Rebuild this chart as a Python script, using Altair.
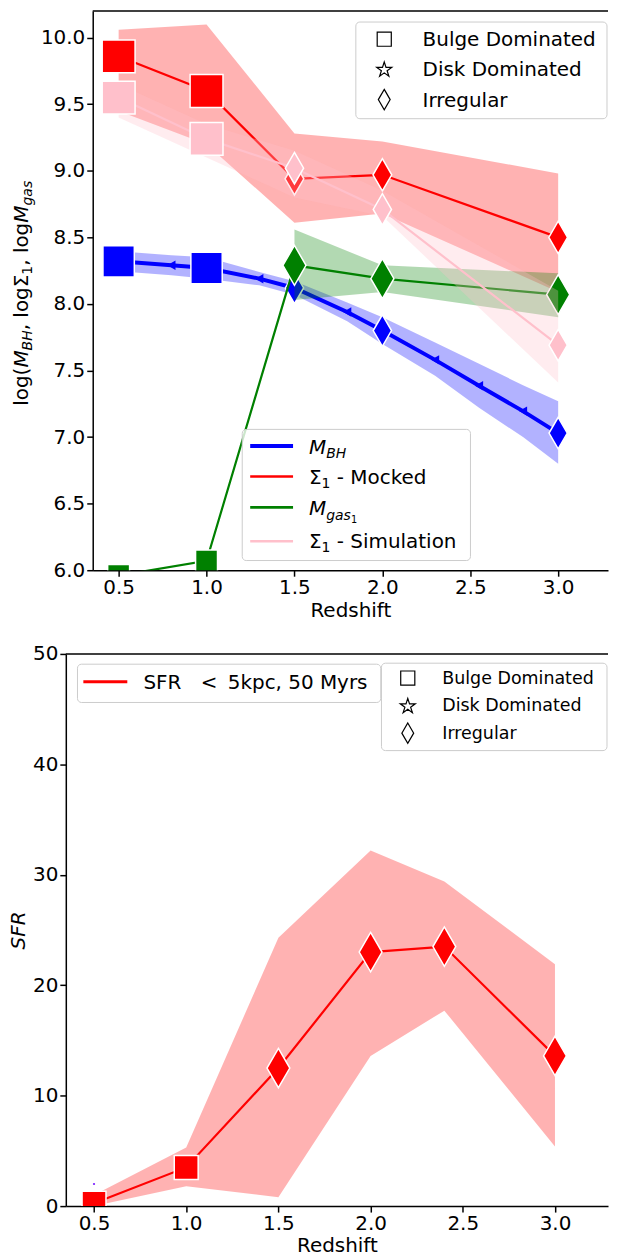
import altair as alt
import pandas as pd

FONT = "DejaVu Sans"

# ------------------------------------------------------------------ top panel data
morph_categories = ["Bulge Dominated", "Disk Dominated", "Irregular"]

z_morph = [0.5, 1.0, 1.5, 2.0, 3.0]
morph_top = ["Bulge Dominated", "Bulge Dominated", "Irregular", "Irregular", "Irregular"]

z_bh = [0.5, 0.8, 1.0, 1.3, 1.5, 1.8, 2.0, 2.3, 2.55, 2.8, 3.0]
log_mbh = [8.32, 8.29, 8.27, 8.19, 8.12, 7.94, 7.80, 7.58, 7.385, 7.195, 7.03]
log_mbh_lo = [8.245, 8.215, 8.19, 8.14, 8.07, 7.87, 7.70, 7.46, 7.22, 7.00, 6.80]
log_mbh_hi = [8.395, 8.365, 8.35, 8.24, 8.17, 8.01, 7.90, 7.71, 7.55, 7.39, 7.27]

sigma1_mocked = [9.86, 9.60, 8.94, 8.97, 8.50]
sigma1_mocked_lo = [9.45, 9.20, 8.61, 8.68, 8.09]
sigma1_mocked_hi = [10.06, 10.10, 9.28, 9.22, 8.98]

log_mgas = [5.96, 6.07, 8.29, 8.19, 8.07]
z_mgas_band = [1.5, 2.0, 3.0]
log_mgas_lo = [8.03, 8.09, 7.90]
log_mgas_hi = [8.56, 8.29, 8.23]

sigma1_sim = [9.55, 9.24, 9.02, 8.71, 7.69]
sigma1_sim_lo = [9.40, 9.10, 8.80, 8.66, 7.41]
sigma1_sim_hi = [9.65, 9.35, 9.15, 8.85, 8.10]

# ------------------------------------------------------------------ bottom panel data
z_sfr = [0.5, 1.0, 1.5, 2.0, 2.4, 3.0]
morph_sfr = ["Bulge Dominated", "Bulge Dominated", "Irregular", "Irregular", "Irregular", "Irregular"]
sfr = [0.25, 3.5, 12.5, 23.0, 23.5, 13.6]
sfr_lo = [0.0, 1.8, 0.8, 13.6, 17.7, 5.4]
sfr_hi = [1.0, 5.3, 24.3, 32.2, 29.4, 21.9]
z_stray = [0.5]
sfr_stray = [2.0]

x_ticks = [0.5, 1.0, 1.5, 2.0, 2.5, 3.0]
y_ticks_top = [6.0, 6.5, 7.0, 7.5, 8.0, 8.5, 9.0, 9.5, 10.0]
y_ticks_sfr = [0, 10, 20, 30, 40, 50]

# ------------------------------------------------------------------ frames
top_df = pd.DataFrame({
    "z": z_morph, "morph": morph_top,
    "mock": sigma1_mocked, "mock_lo": sigma1_mocked_lo, "mock_hi": sigma1_mocked_hi,
    "sim": sigma1_sim, "sim_lo": sigma1_sim_lo, "sim_hi": sigma1_sim_hi,
    "gas": log_mgas,
})
gas_band_df = pd.DataFrame({"z": z_mgas_band, "lo": log_mgas_lo, "hi": log_mgas_hi})
bh_df = pd.DataFrame({"z": z_bh, "v": log_mbh, "lo": log_mbh_lo, "hi": log_mbh_hi})
bh_df["morph"] = bh_df["z"].map(dict(zip(z_morph, morph_top))).fillna("none")
sfr_df = pd.DataFrame({"z": z_sfr, "morph": morph_sfr, "v": sfr, "lo": sfr_lo, "hi": sfr_hi})
stray_df = pd.DataFrame({"z": z_stray, "v": sfr_stray})
one = pd.DataFrame({"k": [0]})

DIAMOND = "M0,-1L0.58,0L0,1L-0.58,0Z"
STAR = ("M0,-1L0.2245,-0.309L0.9511,-0.309L0.3633,0.118L0.5878,0.809L0,0.382"
        "L-0.5878,0.809L-0.3633,0.118L-0.9511,-0.309L-0.2245,-0.309Z")
SHAPE = alt.Shape("morph:N", scale=alt.Scale(domain=morph_categories,
                                             range=["square", STAR, DIAMOND]), legend=None)

# ------------------------------------------------------------------ text helpers
W = {' ': .318, '(': .390, ')': .390, ',': .318, '-': .361, '.': .318, '<': .838,
     'l': .278, 'o': .612, 'g': .635, 'a': .613, 's': .521, 'i': .278, 'm': .974,
     'u': .634, 't': .392, 'n': .634, 'c': .550, 'k': .579, 'e': .615, 'd': .635,
     'p': .635, 'r': .411, 'y': .592, 'h': .634, 'f': .352, 'b': .635,
     'M': .863, 'B': .686, 'H': .752, 'S': .635, 'F': .575, 'R': .695, 'D': .770,
     'I': .295, 'Σ': .632}


def text_width(s, size):
    return sum(W.get(c, .636) for c in s) * size


def txt(text, x, y, size=20, italic=False, angle=None):
    kw = dict(text=text, font=FONT, fontSize=size, fontStyle="italic" if italic else "normal",
              align="left", baseline="alphabetic", color="black")
    if angle is not None:
        kw["angle"] = angle
    return alt.Chart(one).mark_text(**kw).encode(x=alt.value(x), y=alt.value(y))


def rich_h(segments, x0, base_y):
    out, x = [], x0
    for text, size, italic, shift in segments:
        lead = len(text) - len(text.lstrip(" "))
        x += text_width(" " * lead, size)
        body = text.lstrip(" ")
        out.append(txt(body, x, base_y + shift, size, italic))
        x += text_width(body, size)
    return out


def rich_v(segments, base_x, y0):
    out, y = [], y0
    for text, size, italic, shift in segments:
        out.append(txt(text, base_x + shift, y, size, italic, angle=270))
        y -= text_width(text, size)
    return out


def box(x1, x2, y1, y2):
    return alt.Chart(one).mark_rect(fill="white", fillOpacity=0.8, stroke="#cccccc",
                                    strokeWidth=1, cornerRadius=4).encode(
        x=alt.value(x1), x2=alt.value(x2), y=alt.value(y1), y2=alt.value(y2))


def sym(shape, x, y, size):
    return alt.Chart(one).mark_point(shape=shape, size=size, color="black", strokeWidth=1.2,
                                     filled=False, opacity=1).encode(x=alt.value(x), y=alt.value(y))


def hline(x1, x2, y, color, width):
    return alt.Chart(one).mark_rule(color=color, strokeWidth=width).encode(
        x=alt.value(x1), x2=alt.value(x2), y=alt.value(y))


def band(df, lo, hi, color, X, Yf, clip=False):
    return alt.Chart(df).mark_area(color=color, opacity=0.3, clip=clip).encode(
        x=X, y=Yf(lo), y2=alt.Y2(hi))


def line(df, f, color, width, X, Yf, clip=False):
    return alt.Chart(df).mark_line(color=color, strokeWidth=width, clip=clip).encode(x=X, y=Yf(f))


def markers(df, f, color, sq_size, dia_size, X, Yf, clip=False):
    out = []
    for m, s in (("Bulge Dominated", sq_size), ("Irregular", dia_size)):
        out.append(alt.Chart(df).transform_filter(alt.datum.morph == m).mark_point(
            filled=True, fill=color, stroke="white", strokeWidth=1.5, size=s, opacity=1,
            fillOpacity=1, clip=clip).encode(x=X, y=Yf(f), shape=SHAPE))
    return out


# ------------------------------------------------------------------ top panel
# both panels share the same left origin; the top panel's axes start 27 px further in
PW = 544
OFF = 27
TH = 561
XT = alt.X("z:Q", scale=alt.Scale(domain=[0.3526, 3.2834], range=[OFF, PW], nice=False, zero=False),
           axis=alt.Axis(values=x_ticks, format=".1f", title="Redshift"))
YS_T = alt.Scale(domain=[6.0, 10.2], nice=False, zero=False)
YA_T = alt.Axis(values=y_ticks_top, format=".1f", title=None, offset=-OFF)


def YT(f):
    return alt.Y(f"{f}:Q", scale=YS_T, axis=YA_T)


top_layers = [
    band(bh_df, "lo", "hi", "blue", XT, YT),
    line(bh_df, "v", "blue", 4, XT, YT),
    alt.Chart(bh_df).transform_filter(alt.datum.morph == "none").mark_point(
        shape="triangle-left", filled=True, color="blue", size=90, opacity=1).encode(x=XT, y=YT("v")),
    *markers(bh_df, "v", "blue", 990, 1000, XT, YT),
    band(top_df, "mock_lo", "mock_hi", "red", XT, YT),
    line(top_df, "mock", "red", 2.2, XT, YT),
    *markers(top_df, "mock", "red", 1089, 1050, XT, YT),
    band(gas_band_df, "lo", "hi", "green", XT, YT),
    line(top_df, "gas", "green", 2.2, XT, YT, clip=True),
    *markers(top_df, "gas", "green", 484, 1600, XT, YT, clip=True),
    band(top_df, "sim_lo", "sim_hi", "pink", XT, YT),
    line(top_df, "sim", "pink", 2.2, XT, YT),
    *markers(top_df, "sim", "pink", 1089, 1000, XT, YT),
    alt.Chart(one).mark_rule(color="black", strokeWidth=1.5).encode(
        x=alt.value(OFF), x2=alt.value(PW), y=alt.value(0)),
    # morphology legend
    box(291, 543, 11, 108),
    sym("square", 319.5, 28.2, 200), sym(STAR, 319.5, 59, 250), sym(DIAMOND, 319.5, 88.8, 420),
    txt("Bulge Dominated", 358, 34.9), txt("Disk Dominated", 358, 64.9), txt("Irregular", 358, 95.9),
    # line legend
    box(177, 406, 419.7, 551.3),
    hline(185, 228, 436.3, "blue", 4), hline(185, 228, 467, "red", 2.6),
    hline(185, 228, 498, "green", 2.6), hline(185, 228, 532, "pink", 2.6),
    *rich_h([("M", 20, True, 0), ("BH", 14, True, 4.4)], 244, 444.3),
    *rich_h([("Σ", 20, False, 0), ("1", 14, False, 4.4), (" - Mocked", 20, False, 0)], 244, 474.3),
    *rich_h([("M", 20, True, 0), ("gas", 14, True, 4.4), ("1", 9.8, False, 7.5)], 244, 506),
    *rich_h([("Σ", 20, False, 0), ("1", 14, False, 4.4), (" - Simulation", 20, False, 0)], 244, 538.6),
    # y title
    *rich_v([("log(", 20, False, 0), ("M", 20, True, 0), ("BH", 14, True, 4.4),
             (", log", 20, False, 0), ("Σ", 20, False, 0), ("1", 14, False, 4.4),
             (", log", 20, False, 0), ("M", 20, True, 0), ("gas", 14, True, 4.4)], -38, 396),
]
top = alt.layer(*top_layers).properties(width=PW, height=TH)

# ------------------------------------------------------------------ bottom panel
BH = 554
XB = alt.X("z:Q", scale=alt.Scale(domain=[0.347, 3.2876], nice=False, zero=False),
           axis=alt.Axis(values=x_ticks, format=".1f", title="Redshift"))
YS_B = alt.Scale(domain=[0, 50], nice=False, zero=False)
YA_B = alt.Axis(values=y_ticks_sfr, format="d", title="SFR", titleFontStyle="italic", titlePadding=4)


def YB(f):
    return alt.Y(f"{f}:Q", scale=YS_B, axis=YA_B)


bottom_layers = [
    band(sfr_df, "lo", "hi", "red", XB, YB),
    line(sfr_df, "v", "red", 2.2, XB, YB),
    *markers(sfr_df, "v", "red", 576, 1560, XB, YB, clip=True),
    alt.Chart(stray_df).mark_circle(color="#7a1fff", size=5, opacity=1).encode(x=XB, y=YB("v")),
    alt.Chart(one).mark_rule(color="black", strokeWidth=1.5).encode(
        x=alt.value(0), x2=alt.value(PW), y=alt.value(0)),
    box(11.7, 316, 10.3, 48.7),
    hline(17.6, 61.7, 28, "red", 3),
    txt("SFR", 77.9, 35), txt("<", 135.5, 35), txt("5kpc, 50 Myrs", 162.5, 35),
    box(316.7, 543, 9.3, 97),
    sym("square", 343.1, 24.2, 200), sym(STAR, 343.1, 52.5, 250), sym(DIAMOND, 343.1, 79.5, 420),
    txt("Bulge Dominated", 377.7, 30.5, 17.5), txt("Disk Dominated", 377.7, 57.5, 17.5),
    txt("Irregular", 377.7, 85.5, 17.5),
]
bottom = alt.layer(*bottom_layers).properties(width=PW, height=BH)

chart = alt.vconcat(top, bottom, spacing=24).properties(
    padding={"left": 0, "right": 0, "top": 0, "bottom": 0}
).configure_view(strokeWidth=0).configure_axis(
    labelFont=FONT, titleFont=FONT, labelFontSize=20, titleFontSize=20,
    labelColor="black", titleColor="black", tickColor="black", domainColor="black",
    tickSize=6, tickWidth=1.5, domainWidth=1.5, grid=False, labelPadding=2,
    titleFontWeight="normal",
).configure_axisX(labelPadding=1, titlePadding=3)

chart.save("out.html", embed_options={"renderer": "svg", "actions": False})
